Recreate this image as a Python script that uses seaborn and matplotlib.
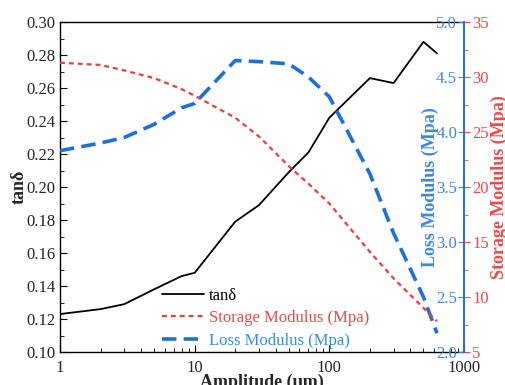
import numpy as np
import pandas as pd
import matplotlib
matplotlib.use('Agg')
import matplotlib.pyplot as plt
import seaborn as sns
from matplotlib.ticker import MultipleLocator, LogLocator, NullFormatter, FixedFormatter, FixedLocator

# veriler
amplitude = [1, 2, 3, 5, 8, 10, 20, 30, 50, 70, 100, 200, 300, 500, 630]
tan_delta = [0.123, 0.126, 0.129, 0.138, 0.146, 0.148, 0.179, 0.189, 0.209,
             0.221, 0.242, 0.266, 0.263, 0.288, 0.281]
storage_mod = [31.3, 31.1, 30.6, 29.9, 28.9, 28.3, 26.3, 24.6, 21.9, 20.3,
               18.5, 14.1, 11.7, 9.0, 7.8]
loss_mod = [3.83, 3.90, 3.95, 4.07, 4.22, 4.26, 4.65, 4.64, 4.62, 4.50,
            4.32, 3.62, 3.08, 2.50, 2.17]

df = pd.DataFrame({'amp': amplitude, 'tan': tan_delta,
                   'sto': storage_mod, 'loss': loss_mod})

sns.set_style('ticks')
plt.rcParams['font.family'] = ['Liberation Serif', 'DejaVu Serif']

BLUE = '#1c6fe0'
BLUE_TXT = '#3f86e6'
RED = '#f03c3c'
RED_TXT = '#f04848'

fig = plt.figure(figsize=(5.06, 3.85), dpi=100)
ax = fig.add_axes([0.1186, 0.0857, 0.7984, 0.8571])

# tan delta
sns.lineplot(data=df, x='amp', y='tan', ax=ax, color='black', linewidth=1.3,
             label='tan\u03b4', legend=False)
ax.set_xscale('log')
ax.set_xlim(1, 1000)
ax.set_ylim(0.10, 0.30)
ax.yaxis.set_major_locator(MultipleLocator(0.02))
ax.yaxis.set_minor_locator(MultipleLocator(0.01))
ax.yaxis.set_major_formatter(plt.FormatStrFormatter('%.2f'))
ax.xaxis.set_major_locator(FixedLocator([1, 10, 100, 1000]))
ax.xaxis.set_major_formatter(FixedFormatter(['1', '10', '100', '1000']))
ax.xaxis.set_minor_locator(LogLocator(base=10, subs=np.arange(2, 10)))
ax.xaxis.set_minor_formatter(NullFormatter())
ax.tick_params(axis='both', which='both', direction='in', labelsize=12, color='black')
ax.tick_params(axis='both', which='major', length=5)
ax.tick_params(axis='both', which='minor', length=3)
ax.tick_params(axis='x', pad=6)
ax.set_xlabel('Amplitude (\u03bcm)', fontsize=13, fontweight='bold', labelpad=-2)
ax.set_ylabel('tan\u03b4', fontsize=13, fontweight='bold', labelpad=-1)
ax.spines['right'].set_visible(False)
for s in ['left', 'bottom', 'top']:
    ax.spines[s].set_color('black')
    ax.spines[s].set_linewidth(1.0)

# loss modulus - ekseni sag tarafta ama etiketler icerde
ax2 = ax.twinx()
sns.lineplot(data=df, x='amp', y='loss', ax=ax2, color=BLUE, linewidth=2.6,
             linestyle=(0, (4, 2)), label='Loss Modulus (Mpa)', legend=False)
ax2.set_ylim(2.0, 5.0)
ax2.yaxis.set_major_locator(MultipleLocator(0.5))
ax2.yaxis.set_major_formatter(plt.FormatStrFormatter('%.1f'))
ax2.spines['left'].set_position(('axes', 1.0))
ax2.spines['left'].set_color(BLUE)
ax2.spines['left'].set_linewidth(1.2)
ax2.spines['right'].set_visible(False)
ax2.spines['top'].set_visible(False)
ax2.spines['bottom'].set_visible(False)
ax2.yaxis.set_ticks_position('left')
ax2.yaxis.set_label_position('left')
ax2.tick_params(axis='y', which='major', direction='out', length=4, pad=1,
                colors=BLUE_TXT, labelsize=12)
ax2.set_ylabel('Loss Modulus (Mpa)', fontsize=13, fontweight='bold',
               color=BLUE_TXT, labelpad=-2)

# storage modulus
ax3 = ax.twinx()
sns.lineplot(data=df, x='amp', y='sto', ax=ax3, color=RED, linewidth=1.6,
             linestyle=(0, (2.2, 1.8)), label='Storage Modulus (Mpa)', legend=False)
ax3.set_ylim(5, 35)
ax3.yaxis.set_major_locator(MultipleLocator(5))
ax3.yaxis.set_minor_locator(MultipleLocator(2.5))
for s in ['left', 'top', 'bottom']:
    ax3.spines[s].set_visible(False)
ax3.spines['right'].set_color(BLUE)
ax3.spines['right'].set_linewidth(1.2)
ax3.tick_params(axis='y', which='both', direction='out', colors=RED_TXT,
                labelsize=12, pad=2)
ax3.tick_params(axis='y', which='major', length=4)
ax3.tick_params(axis='y', which='minor', length=3)
ax3.set_ylabel('Storage Modulus (Mpa)', fontsize=13, fontweight='bold',
               color=RED_TXT, labelpad=1)

# legend
h1, l1 = ax.get_legend_handles_labels()
h2, l2 = ax2.get_legend_handles_labels()
h3, l3 = ax3.get_legend_handles_labels()
leg = ax3.legend(h1 + h3 + h2, l1 + l3 + l2, loc='lower left',
                 bbox_to_anchor=(0.215, -0.035), frameon=False, fontsize=12,
                 handlelength=2.5, handletextpad=0.3, labelspacing=0.38)
for txt, c in zip(leg.get_texts(), ['black', RED_TXT, '#2f8ff0']):
    txt.set_color(c)

plt.savefig('out.png', dpi=100)
